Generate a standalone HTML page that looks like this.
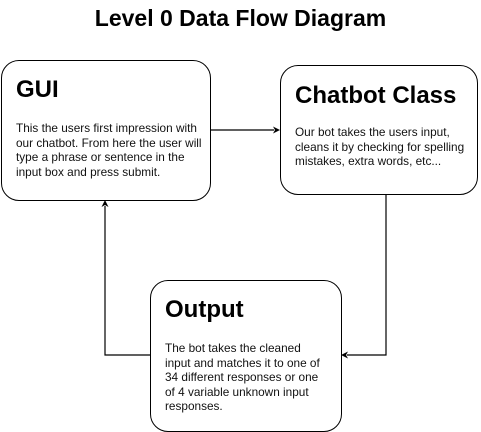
<!DOCTYPE html><html><head><style>
body{margin:0;width:481px;height:431px;background:#fff;font-family:"Liberation Sans",Arial,sans-serif;position:relative;overflow:hidden}
.b{position:absolute;border:1.3px solid #000;border-radius:18px;box-sizing:border-box;background:#fff}
.h{position:absolute;font-weight:bold;font-size:24px;color:#000;white-space:nowrap}
.t{position:absolute;font-size:11.8px;line-height:14.5px;color:#111;white-space:nowrap}
</style></head><body>
<div style="position:absolute;top:5px;left:0;width:481px;text-align:center;font-weight:bold;font-size:23px">Level 0 Data Flow Diagram</div>
<svg style="position:absolute;left:0;top:0" width="481" height="431">
<g stroke="#000" stroke-width="1.2" fill="none">
<path d="M210 130H274"/><path d="M386 195V355H347"/><path d="M150 355H105V206"/>
</g>
<g fill="#000"><path d="M280 130l-7-3.5 2 3.5-2 3.5z"/><path d="M341 355l7-3.5-2 3.5 2 3.5z"/><path d="M105 200l-3.5 7 3.5-2 3.5 2z"/></g>
</svg>
<div class="b" style="left:1px;top:60px;width:210px;height:141px"></div>
<div class="h" style="left:16px;top:76px">GUI</div>
<div class="t" style="left:16px;top:121px">This the users first impression with<br>our chatbot. From here the user will<br>type a phrase or sentence in the<br>input box and press submit.</div>
<div class="b" style="left:280px;top:65px;width:198px;height:130px"></div>
<div class="h" style="left:295px;top:82px">Chatbot Class</div>
<div class="t" style="left:295px;top:125px">Our bot takes the users input,<br>cleans it by checking for spelling<br>mistakes, extra words, etc...</div>
<div class="b" style="left:150px;top:280px;width:192px;height:152px"></div>
<div class="h" style="left:165px;top:296px">Output</div>
<div class="t" style="left:165px;top:341px">The bot takes the cleaned<br>input and matches it to one of<br>34 different responses or one<br>of 4 variable unknown input<br>responses.</div>
</body></html>
